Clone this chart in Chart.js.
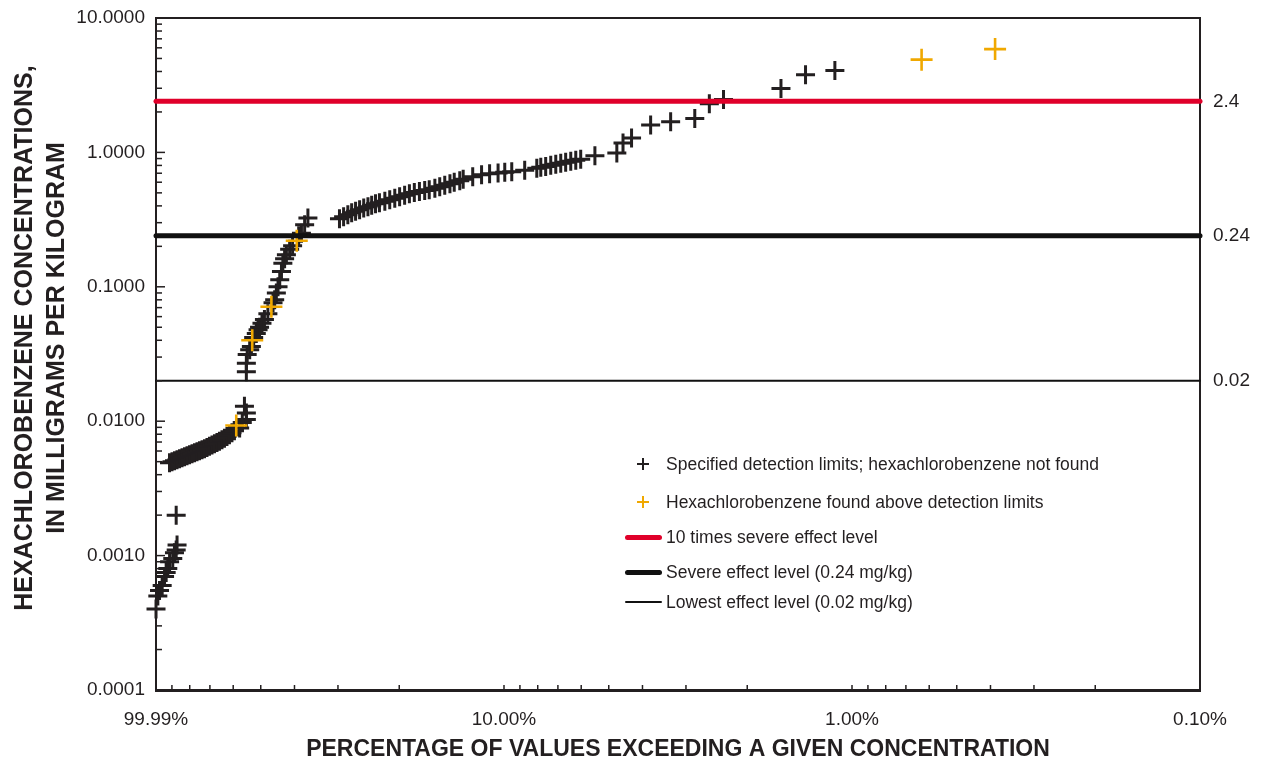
<!DOCTYPE html>
<html>
<head>
<meta charset="utf-8">
<script src="https://cdn.jsdelivr.net/npm/chart.js@4.4.0/dist/chart.umd.min.js"></script>
<style>
  body { margin: 0; background: #fff; }
  #wrap { position: relative; width: 1267px; height: 764px; font-family: 'Liberation Sans', Arial, sans-serif; color: #231f20; }
  #legend { position: absolute; left: 0; top: 0; font-size: 17.5px; }
  .item { position: absolute; left: 620px; height: 24px; display: flex; align-items: center; white-space: nowrap; }
  .mark { position: relative; width: 46px; height: 24px; }
  .plus .h, .plus .v { position: absolute; }
  .plus .h { left: 17px; top: 11px; width: 12px; height: 2px; }
  .plus .v { left: 22px; top: 6px; width: 2px; height: 12px; }
  .bar { position: absolute; left: 5px; width: 37px; border-radius: 3px; }
  #ytitle { position: absolute; left: -271px; top: 306px; width: 620px; height: 64px; line-height: 32px;
            text-align: center; font-size: 25px; font-weight: bold; transform: rotate(-90deg); white-space: nowrap; }
</style>
</head>
<body>
<div id="wrap">
  <canvas id="myChart" width="1267" height="764"></canvas>
  <div id="ytitle"></div>
  <div id="legend"></div>
</div>
<script>
// axis ticks
const xMajorTicks = [100, 10, 1, 0.1];
const xTickLabels = ['99.99%', '10.00%', '1.00%', '0.10%'];
const yMajorTicks = [0.0001, 0.001, 0.01, 0.1, 1, 10];
const yTickLabels = ['0.0001', '0.0010', '0.0100', '0.1000', '1.0000', '10.0000'];
const minorSteps = [2, 3, 4, 5, 6, 7, 8, 9];
const yTitleLines = ['HEXACHLOROBENZENE CONCENTRATIONS,', 'IN MILLIGRAMS PER KILOGRAM'];

// reference levels (mg/kg)
const levelValues = [2.4, 0.24, 0.02];
const levelLabels = ['2.4', '0.24', '0.02'];
const levelNames = ['10 times severe effect level', 'Severe effect level (0.24 mg/kg)', 'Lowest effect level (0.02 mg/kg)'];

// not detected: percent exceeding / concentration
const notFoundPct = [
  99.99, 98.8, 97.7, 96.0, 94.5, 93.5, 92.5, 91.4, 89.5, 88.5, 87.5, 87.0, 87.5,
  91.45, 89.96, 88.47, 87.03, 85.59, 84.19, 82.81, 81.45, 80.11, 78.8, 77.51, 76.24, 74.99, 73.76,
  72.55, 71.37, 70.2, 69.04, 67.91, 66.8, 65.71, 64.63, 63.57, 62.53, 61.51, 60.5, 59.51,
  57.5, 56.5, 55.0, 55.0, 55.7,
  55.0, 55.0, 54.7, 53.8, 53.2, 52.4, 51.5, 50.9, 50.4, 49.6, 48.8, 47.7, 46.1, 45.6, 45.1, 44.6,
  44.1, 43.6, 43.2, 42.7, 42.2, 41.3, 40.5, 38.9, 38.2, 37.4, 36.6,
  29.7, 28.9, 28.1, 27.4, 26.7, 26.0, 25.3, 24.6, 24.0, 23.4, 22.8, 22.0, 21.3, 20.6, 19.95, 19.3,
  18.7, 18.1, 17.5, 16.9, 16.4, 15.8, 15.3, 14.8, 14.3, 13.9, 13.4, 13.1, 12.3, 11.6, 11.0, 10.4,
  9.95, 9.5, 8.72, 8.05, 7.84, 7.59, 7.34, 7.1, 6.87, 6.65, 6.43, 6.22, 6.02, 5.48, 4.74,
  4.55, 4.3, 3.79, 3.32, 2.83, 2.57, 2.34, 1.6, 1.36, 1.12
];
const notFoundConc = [
  0.0004, 0.0005, 0.00055, 0.0006, 0.0007, 0.00075, 0.0008, 0.0009, 0.00095, 0.00105, 0.0011, 0.0012, 0.002,
  0.00491, 0.005, 0.00508, 0.00517, 0.00526, 0.00535, 0.00544, 0.00554, 0.00563, 0.00573, 0.00583, 0.00593, 0.00603, 0.00614,
  0.00624, 0.00637, 0.00652, 0.00666, 0.0068, 0.00694, 0.0071, 0.00729, 0.00747, 0.00769, 0.00794, 0.00821, 0.0085,
  0.0089, 0.0098, 0.0103, 0.0115, 0.0129,
  0.0233, 0.027, 0.0313, 0.034, 0.036, 0.042, 0.045, 0.048, 0.05, 0.0536, 0.0572, 0.063, 0.0762, 0.0802, 0.09, 0.1,
  0.113, 0.13, 0.15, 0.162, 0.173, 0.19, 0.202, 0.24, 0.25, 0.29, 0.325,
  0.321, 0.332, 0.344, 0.356, 0.365, 0.375, 0.385, 0.394, 0.405, 0.415, 0.422, 0.433, 0.445, 0.456, 0.468, 0.48,
  0.493, 0.503, 0.512, 0.521, 0.528, 0.542, 0.556, 0.57, 0.585, 0.6, 0.616, 0.632, 0.66, 0.682, 0.694, 0.703,
  0.712, 0.719, 0.736, 0.763, 0.776, 0.786, 0.801, 0.815, 0.829, 0.844, 0.858, 0.873, 0.888, 0.945, 0.99,
  1.175, 1.28, 1.6, 1.69, 1.79, 2.3, 2.47, 2.99, 3.78, 4.07
];

// found above detection limits
const foundPct = [58.8, 52.9, 46.6, 39.4, 0.631, 0.388];
const foundConc = [0.0093, 0.04, 0.071, 0.22, 4.9, 5.87];

const ink = '#231f20';
const orange = '#f0a800';
const levelColors = ['#e0002a', '#111111', '#111111'];
const levelWidths = [5, 5, 2];
const fontFamily = "'Liberation Sans', Arial, Helvetica, sans-serif";

const toPoints = (xs, ys) => xs.map((x, i) => ({ x: x, y: ys[i] }));
const sameValue = (a, b) => Math.abs(Math.log10(a) - Math.log10(b)) < 1e-6;
const labelFor = (v, values, labels) => {
	const i = values.findIndex(m => sameValue(m, v));
	return i >= 0 ? labels[i] : '';
};

// major + minor tick values (log decades)
const withMinors = (majors) => {
	const out = majors.slice();
	majors.forEach(m => {
		if (m < Math.max(...majors)) minorSteps.forEach(k => out.push(m * k));
	});
	return out;
};
const xTickValues = withMinors(xMajorTicks);
const yTickValues = withMinors(yMajorTicks);

// inward tick marks and top frame
const innerTicks = {
	id: 'innerTicks',
	afterDraw(chart) {
		const { ctx, chartArea: a, scales } = chart;
		ctx.save();
		ctx.strokeStyle = ink;
		ctx.lineWidth = 1.5;
		scales.y.ticks.forEach(t => {
			const py = scales.y.getPixelForValue(t.value);
			const len = t.label ? 9 : 6;
			ctx.beginPath();
			ctx.moveTo(a.left, py);
			ctx.lineTo(a.left + len, py);
			ctx.stroke();
		});
		scales.x.ticks.forEach(t => {
			const px = scales.x.getPixelForValue(t.value);
			ctx.beginPath();
			ctx.moveTo(px, a.bottom);
			ctx.lineTo(px, a.bottom - 5);
			ctx.stroke();
		});
		ctx.lineWidth = 2;
		ctx.beginPath();
		ctx.moveTo(a.left, a.top);
		ctx.lineTo(a.right, a.top);
		ctx.stroke();
		ctx.restore();
	}
};

const levelSets = levelValues.map((v, i) => ({
	label: levelNames[i],
	data: [{ x: xMajorTicks[0], y: v }, { x: xMajorTicks[xMajorTicks.length - 1], y: v }],
	showLine: true,
	borderColor: levelColors[i],
	borderWidth: levelWidths[i],
	borderCapStyle: 'round',
	pointRadius: 0,
	clip: false,
	order: 1
}));

const chart = new Chart(document.getElementById('myChart'), {
	type: 'scatter',
	data: {
		datasets: [
			{
				label: 'Specified detection limits; hexachlorobenzene not found',
				data: toPoints(notFoundPct, notFoundConc),
				pointStyle: 'cross',
				pointRadius: 9.5,
				pointBorderWidth: 3,
				pointBorderColor: ink,
				borderColor: ink,
				backgroundColor: ink,
				clip: false,
				order: 3
			},
			{
				label: 'Hexachlorobenzene found above detection limits',
				data: toPoints(foundPct, foundConc),
				pointStyle: 'cross',
				pointRadius: 11,
				pointBorderWidth: 2.6,
				pointBorderColor: orange,
				borderColor: orange,
				backgroundColor: orange,
				clip: false,
				order: 2
			},
			...levelSets
		]
	},
	options: {
		responsive: false,
		animation: false,
		events: [],
		layout: { padding: { top: 18, left: 0, right: 0, bottom: 0 } },
		plugins: {
			legend: { display: false },
			tooltip: { enabled: false }
		},
		scales: {
			x: {
				type: 'logarithmic',
				reverse: true,
				min: 0.1,
				max: 100,
				afterBuildTicks: s => { s.ticks = xTickValues.map(v => ({ value: v })); },
				afterFit: s => { s.height = 74; },
				grid: { display: false },
				border: { display: true, color: ink, width: 3 },
				ticks: {
					autoSkip: false,
					maxRotation: 0,
					padding: 10,
					color: ink,
					font: { family: fontFamily, size: 19 },
					callback: v => labelFor(v, xMajorTicks, xTickLabels)
				},
				title: {
					display: true,
					text: 'PERCENTAGE OF VALUES EXCEEDING A GIVEN CONCENTRATION',
					color: ink,
					font: { family: fontFamily, size: 23, weight: 'bold' },
					padding: { top: 0, bottom: 1 }
				}
			},
			y: {
				type: 'logarithmic',
				position: 'left',
				min: 0.0001,
				max: 10,
				afterBuildTicks: s => { s.ticks = yTickValues.map(v => ({ value: v })); },
				afterFit: s => { s.width = 156; },
				grid: { display: false },
				border: { display: true, color: ink, width: 2 },
				ticks: {
					autoSkip: false,
					padding: 3,
					color: ink,
					font: { family: fontFamily, size: 19 },
					callback: v => labelFor(v, yMajorTicks, yTickLabels)
				}
			},
			y2: {
				type: 'logarithmic',
				position: 'right',
				min: 0.0001,
				max: 10,
				afterBuildTicks: s => { s.ticks = levelValues.map(v => ({ value: v })); },
				afterFit: s => { s.width = 67; },
				grid: { display: false },
				border: { display: true, color: ink, width: 2 },
				ticks: {
					autoSkip: false,
					padding: 5,
					color: ink,
					font: { family: fontFamily, size: 19 },
					callback: v => labelFor(v, levelValues, levelLabels)
				}
			}
		}
	},
	plugins: [innerTicks]
});

// y axis title (two lines, rotated)
document.getElementById('ytitle').innerHTML = yTitleLines.join('<br>');

// legend inside the plot, bottom right
const legendRows = [464, 502, 537, 572, 602];
const legend = document.getElementById('legend');
chart.data.datasets.forEach((ds, i) => {
	const item = document.createElement('div');
	item.className = 'item';
	item.style.top = (legendRows[i] - 12) + 'px';
	const mark = document.createElement('div');
	mark.className = 'mark';
	if (ds.pointStyle === 'cross') {
		mark.classList.add('plus');
		const h = document.createElement('div');
		const v = document.createElement('div');
		h.className = 'h';
		v.className = 'v';
		h.style.background = ds.pointBorderColor;
		v.style.background = ds.pointBorderColor;
		mark.appendChild(h);
		mark.appendChild(v);
	} else {
		const bar = document.createElement('div');
		bar.className = 'bar';
		bar.style.height = ds.borderWidth + 'px';
		bar.style.top = (12 - ds.borderWidth / 2) + 'px';
		bar.style.background = ds.borderColor;
		mark.appendChild(bar);
	}
	const text = document.createElement('span');
	text.textContent = ds.label;
	item.appendChild(mark);
	item.appendChild(text);
	legend.appendChild(item);
});
</script>
</body>
</html>
